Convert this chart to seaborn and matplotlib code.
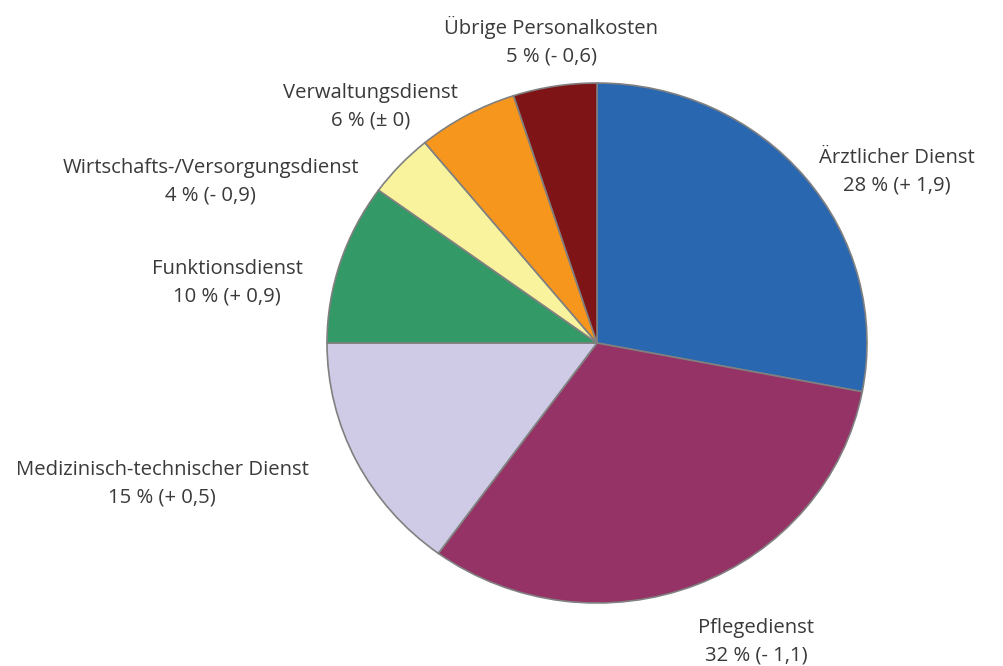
import matplotlib
matplotlib.use("Agg")
import matplotlib.pyplot as plt
import seaborn as sns

# Personalkosten nach Dienstart: Anteil in % und Veränderung zum Vorjahr
categories = ["Ärztlicher Dienst", "Pflegedienst", "Medizinisch-technischer Dienst",
              "Funktionsdienst", "Wirtschafts-/Versorgungsdienst", "Verwaltungsdienst",
              "Übrige Personalkosten"]
shares = [28, 32, 15, 10, 4, 6, 5]
changes = ["+ 1,9", "- 1,1", "+ 0,5", "+ 0,9", "- 0,9", "± 0", "- 0,6"]
colors = ["#2a67b1", "#963366", "#cfcbe6", "#339966", "#f8f39c", "#f7961d", "#7f1416"]

# label centres in pie units (radius = 1)
label_pos = [(1.11, 0.66), (0.59, -1.15), (-1.61, -0.54), (-1.37, 0.23),
             (-1.43, 0.62), (-0.84, 0.91), (-0.17, 1.16)]

sns.set_theme(style="white")
plt.rcParams["font.family"] = ["Open Sans", "DejaVu Sans"]

fig = plt.figure(figsize=(10.04, 6.66), dpi=100)
# axes box spans the pie itself (slightly wider than tall, like the original)
ax = fig.add_axes([327 / 1004, (666 - 603) / 666, 540 / 1004, 520 / 666])

ax.pie(shares, colors=colors, startangle=90, counterclock=False,
       wedgeprops=dict(edgecolor="#808080", linewidth=1.2))
ax.set_aspect("auto")
ax.set_xlim(-1, 1)
ax.set_ylim(-1, 1)
ax.axis("off")

for name, val, ch, (lx, ly) in zip(categories, shares, changes, label_pos):
    ax.text(lx, ly, f"{name}\n{val} % ({ch})", ha="center", va="center",
            fontsize=14.6, color="#3a3a3a", linespacing=1.5, clip_on=False)

fig.savefig("out.png", dpi=100)
